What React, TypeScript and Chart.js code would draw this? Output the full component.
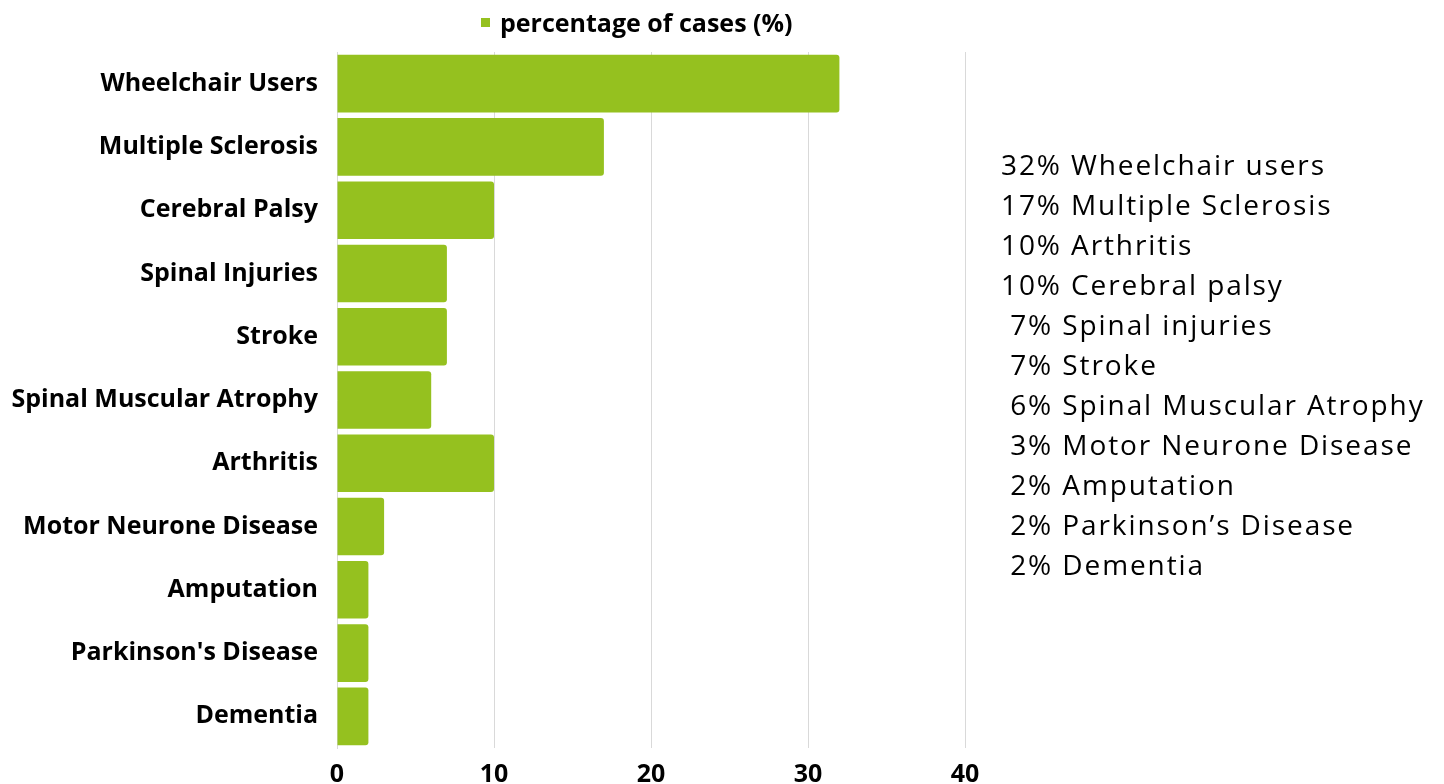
import React, { useEffect, useRef } from "react";
import { Chart, registerables } from "chart.js";

Chart.register(...registerables);

const categories = [
  "Wheelchair Users",
  "Multiple Sclerosis",
  "Cerebral Palsy",
  "Spinal Injuries",
  "Stroke",
  "Spinal Muscular Atrophy",
  "Arthritis",
  "Motor Neurone Disease",
  "Amputation",
  "Parkinson's Disease",
  "Dementia",
];
const percentages = [32, 17, 10, 7, 7, 6, 10, 3, 2, 2, 2];
const seriesLabel = "percentage of cases (%)";
const xTicks = [0, 10, 20, 30, 40];
const noteLines = [
  "32% Wheelchair users",
  "17% Multiple Sclerosis",
  "10% Arthritis",
  "10% Cerebral palsy",
  " 7% Spinal injuries",
  " 7% Stroke",
  " 6% Spinal Muscular Atrophy",
  " 3% Motor Neurone Disease",
  " 2% Amputation",
  " 2% Parkinson’s Disease",
  " 2% Dementia",
];

const GREEN = "#95C11F";

export default function App() {
  const ref = useRef<HTMLCanvasElement | null>(null);

  useEffect(() => {
    document.body.style.margin = "0";
    const ctx = ref.current!;
    const chart = new Chart(ctx, {
      type: "bar",
      data: {
        labels: categories,
        datasets: [
          {
            label: seriesLabel,
            data: percentages,
            backgroundColor: GREEN,
            borderWidth: 0,
            borderRadius: 3,
            borderSkipped: "start",
            barPercentage: 0.91,
            categoryPercentage: 1,
          },
        ],
      },
      options: {
        indexAxis: "y",
        animation: false,
        responsive: false,
        maintainAspectRatio: false,
        layout: { padding: { top: 52, right: 479, left: 0, bottom: 0 } },
        plugins: {
          legend: { display: false },
          tooltip: { enabled: false },
        },
        scales: {
          x: {
            min: 0,
            max: 40,
            afterBuildTicks: (scale: any) => {
              scale.ticks = xTicks.map((v) => ({ value: v }));
            },
            afterFit: (scale: any) => {
              scale.height = 36;
            },
            grid: {
              color: (c: any) => (c.tick && c.tick.value === 0 ? "rgba(0,0,0,0)" : "#d9d9d9"),
              lineWidth: 1,
              drawTicks: false,
            },
            border: { display: false },
            ticks: {
              padding: 12,
              color: "#000",
              font: { family: "Open Sans", size: 25, weight: "bold" },
            },
          },
          y: {
            afterFit: (scale: any) => {
              scale.width = 337;
            },
            grid: { display: false, drawTicks: false },
            border: { display: true, color: "#d9d9d9", width: 1 },
            ticks: {
              padding: 19,
              color: "#000",
              font: { family: "Open Sans", size: 25, weight: "bold" },
            },
          },
        },
      },
    });
    return () => chart.destroy();
  }, []);

  return (
    <div style={{ position: "relative", width: 1444, height: 784, background: "#fff" }}>
      <canvas ref={ref} width={1444} height={784} style={{ position: "absolute", left: 0, top: 0 }} />
      <div
        style={{
          position: "absolute",
          left: 481,
          top: 6,
          height: 32,
          display: "flex",
          alignItems: "center",
          fontFamily: "Open Sans",
          fontWeight: "bold",
          fontSize: 25,
          color: "#000",
        }}
      >
        <span style={{ display: "inline-block", width: 9, height: 9, background: GREEN, marginRight: 10 }} />
        <span>{seriesLabel}</span>
      </div>
      <div
        style={{
          position: "absolute",
          left: 1001,
          top: 144,
          fontFamily: "Open Sans",
          fontSize: 28,
          lineHeight: "40px",
          letterSpacing: "1.9px",
          color: "#000",
          whiteSpace: "pre",
        }}
      >
        {noteLines.map((l, i) => (
          <div key={i}>{l}</div>
        ))}
      </div>
    </div>
  );
}
